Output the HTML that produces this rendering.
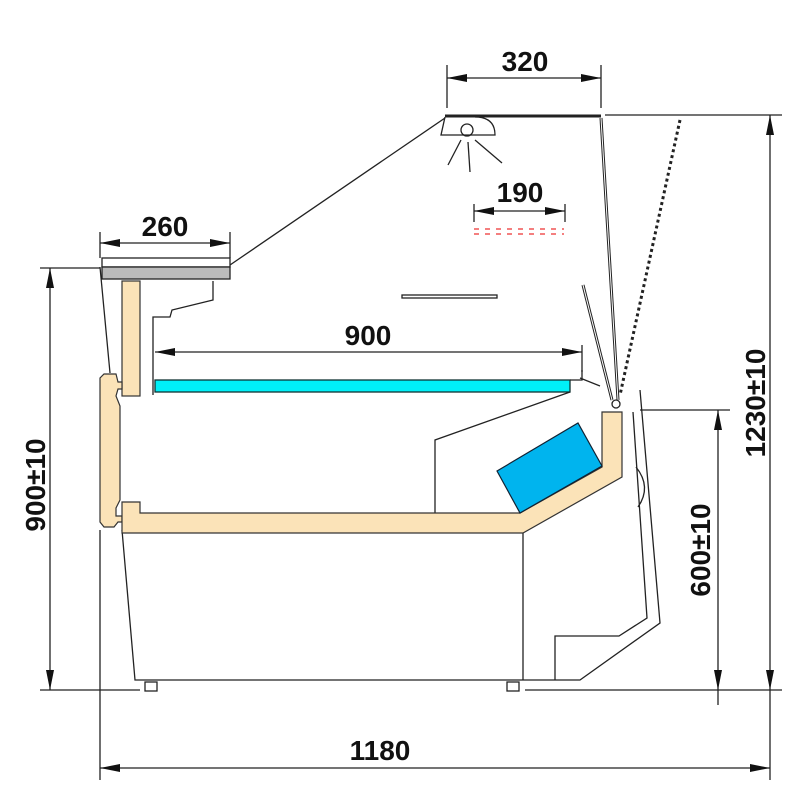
<!DOCTYPE html>
<html><head><style>body{margin:0;background:#fff}svg{display:block}text{font-family:"Liberation Sans",sans-serif;font-weight:bold;font-size:28px;fill:#111}</style></head>
<body>
<svg width="800" height="800" viewBox="0 0 800 800" xmlns="http://www.w3.org/2000/svg">
<g stroke="#222" stroke-width="1.3" fill="none">
<line x1="447" y1="65" x2="447" y2="108"/><line x1="601" y1="65" x2="601" y2="108"/>
<line x1="447" y1="78" x2="601" y2="78"/>
<line x1="605" y1="115" x2="782" y2="115"/><line x1="525" y1="690" x2="782" y2="690"/>
<line x1="770" y1="115" x2="770" y2="690"/>
<line x1="640" y1="410" x2="730" y2="410"/>
<line x1="718" y1="410" x2="718" y2="705"/>
<line x1="40" y1="268" x2="100" y2="268"/><line x1="40" y1="690" x2="140" y2="690"/>
<line x1="50" y1="268" x2="50" y2="690"/>
<line x1="100" y1="530" x2="100" y2="780"/><line x1="770" y1="690" x2="770" y2="780"/>
<line x1="100" y1="768" x2="770" y2="768"/>
<line x1="100" y1="232" x2="100" y2="258"/><line x1="230" y1="232" x2="230" y2="258"/>
<line x1="100" y1="243" x2="230" y2="243"/>
<line x1="155" y1="352" x2="582" y2="352"/>
<line x1="582" y1="345" x2="582" y2="372"/>
<line x1="474" y1="204" x2="474" y2="222"/><line x1="565" y1="204" x2="565" y2="222"/>
<line x1="474" y1="211" x2="565" y2="211"/>
<line x1="230" y1="265" x2="445" y2="118"/>
<line x1="445" y1="116" x2="601" y2="116" stroke-width="3"/>
<path d="M445,117 L441,135 L495,135 Q495,117 475,117"/>
<circle cx="467" cy="130" r="6"/>
<line x1="461" y1="140" x2="448" y2="165"/><line x1="468" y1="142" x2="470" y2="172"/><line x1="475" y1="140" x2="502" y2="163"/>
<line x1="601" y1="118" x2="618" y2="400" stroke-width="3"/>
<line x1="601" y1="118" x2="618" y2="400" stroke="#fff" stroke-width="1"/>
<line x1="680" y1="120" x2="620" y2="395" stroke-dasharray="3,3" stroke-width="3"/>
<line x1="583" y1="285" x2="612" y2="400" stroke-width="3"/>
<line x1="583" y1="285" x2="612" y2="400" stroke="#fff" stroke-width="1"/>
<circle cx="616" cy="404" r="4"/>
<path d="M474,229 h90 M474,234 h90" stroke="#e33" stroke-dasharray="5,6"/>
<rect x="402" y="295" width="95" height="3"/>
<rect x="102" y="258" width="128" height="9"/>
<rect x="102" y="267" width="128" height="12" fill="#bbb"/>
<line x1="100" y1="267" x2="110" y2="373"/>
<path d="M213,281 L213,300 L172,310 L170,317 L153,317 L153,395"/>
<rect x="155" y="380" width="415" height="12" fill="#00f0f8" stroke="#133"/>
<path d="M570,380 L582,380 L582,370 M580,378 L600,386 M570,392 L435,440 L435,513"/>
<path d="M122,530 L135,680 L580,680 L660,623 L640,390"/>
<path d="M633,412 L647,618 L619,636 L555,636 L555,680"/>
<path d="M636,467 Q652,487 638,507"/>
<line x1="523" y1="533" x2="523" y2="680"/>
<rect x="145" y="682" width="12" height="9"/><rect x="507" y="682" width="12" height="9"/>
</g>
<g fill="#111">
<polygon points="447,78 467,74 467,82"/><polygon points="601,78 581,74 581,82"/>
<polygon points="770,115 766,135 774,135"/><polygon points="770,690 766,670 774,670"/>
<polygon points="718,410 714,430 722,430"/><polygon points="718,690 714,670 722,670"/>
<polygon points="50,268 46,288 54,288"/><polygon points="50,690 46,670 54,670"/>
<polygon points="100,768 120,764 120,772"/><polygon points="770,768 750,764 750,772"/>
<polygon points="100,243 120,239 120,247"/><polygon points="230,243 210,239 210,247"/>
<polygon points="155,352 175,348 175,356"/><polygon points="582,352 562,348 562,356"/>
<polygon points="474,211 494,207 494,215"/><polygon points="565,211 545,207 545,215"/>
</g>
<g fill="#fbe3b8" stroke="#333" stroke-width="1.2">
<rect x="122" y="281" width="18" height="115"/>
<path d="M104,374 L116,374 L118,382 L122,382 L122,389 L118,389 L116,396 L120,406 L120,500 L116,508 L116,516 L122,516 L122,522 L118,522 L114,527 L104,527 L100,522 L100,378z"/>
<path d="M122,502 L140,502 L140,513 L520,513 L602,467 L602,412 L622,412 L622,477 L523,533 L122,533z"/>
</g>
<polygon points="497,471 578,423 602,466 520,513" fill="#00b4ee" stroke="#123" stroke-width="1.2"/>
<text x="525" y="71" text-anchor="middle">320</text>
<text x="520" y="202" text-anchor="middle">190</text>
<text x="165" y="236" text-anchor="middle">260</text>
<text x="368" y="345" text-anchor="middle">900</text>
<text x="380" y="760" text-anchor="middle">1180</text>
<text transform="translate(765,403) rotate(-90)" text-anchor="middle">1230±10</text>
<text transform="translate(710,550) rotate(-90)" text-anchor="middle">600±10</text>
<text transform="translate(45,485) rotate(-90)" text-anchor="middle">900±10</text>
</svg>
</body></html>
